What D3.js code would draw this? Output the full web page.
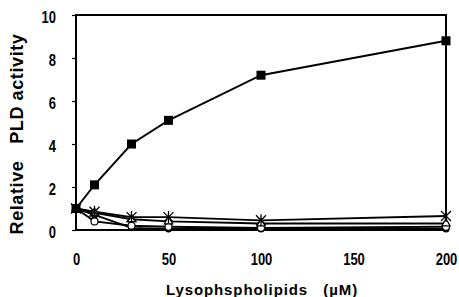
<!DOCTYPE html>
<html>
<head>
<meta charset="utf-8">
<script src="https://cdn.jsdelivr.net/npm/d3@7"></script>
<style>
  body { margin: 0; background: #fff; }
  text { font-family: "Liberation Sans", Arial, sans-serif; font-weight: bold; fill: #000; }
</style>
</head>
<body>
<script>
// concentrations (uM)
let conc = [0, 10, 30, 50, 100, 200];

// relative PLD activity per lysophospholipid
let squareVals = [1.0, 2.1, 4.0, 5.1, 7.2, 8.8];
let starVals = [1.0, 0.85, 0.6, 0.6, 0.45, 0.65];
let triangleVals = [1.0, 0.8, 0.5, 0.4, 0.3, 0.3];
let openCircleVals = [1.0, 0.4, 0.2, 0.15, 0.1, 0.15];
let filledCircleVals = [1.0, 0.7, 0.1, 0.05, 0.05, 0.05];

let xTicks = [0, 50, 100, 150, 200];
let yTicks = [0, 2, 4, 6, 8, 10];

let margin = {top: 15, right: 13, bottom: 67, left: 76};
let width = 459 - margin.left - margin.right;
let height = 297 - margin.top - margin.bottom;

let xScale = d3.scaleLinear().domain([0, 200]).range([0, width]);
let yScale = d3.scaleLinear().domain([0, 10]).range([height, 0]);

let svg = d3.select("body").append("svg")
		.attr("width", 459)
		.attr("height", 297);

let chart = svg.append("g")
		.attr("transform", "translate(" + margin.left + "," + margin.top + ")");

// frame
chart.append("rect")
	.attr("width", width)
	.attr("height", height)
	.attr("fill", "none")
	.attr("stroke", "#000")
	.attr("stroke-width", 2);

// axes
let xAxis = chart.append("g")
	.attr("transform", "translate(0," + height + ")")
	.call(d3.axisBottom(xScale).tickValues(xTicks).tickSize(0));
let yAxis = chart.append("g")
	.call(d3.axisLeft(yScale).tickValues(yTicks).tickSize(4));

[xAxis, yAxis].forEach(function(a) {
	a.select(".domain").remove();
	a.selectAll("line").attr("stroke", "#000").attr("stroke-width", 1.2);
	a.selectAll("text").style("font-size", "13px").style("font-family", "Liberation Sans, Arial, sans-serif").style("font-weight", "bold");
});

// taller digits, like the scanned figure
xAxis.selectAll("text")
	.attr("y", null).attr("dy", null)
	.attr("transform", "translate(0,35) scale(1,1.25)");
yAxis.selectAll("text")
	.attr("x", null).attr("dy", null)
	.attr("transform", "translate(-20,7) scale(1,1.25)");

let line = d3.line()
	.x(function(d, i) { return xScale(conc[i]); })
	.y(function(d) { return yScale(d); });

let series = [filledCircleVals, openCircleVals, triangleVals, starVals, squareVals];
series.forEach(function(vals) {
	chart.append("path")
		.datum(vals)
		.attr("fill", "none")
		.attr("stroke", "#000")
		.attr("stroke-width", 1.9)
		.attr("d", line);
});

// markers
function pts(vals) {
	return vals.map(function(v, i) { return {x: xScale(conc[i]), y: yScale(v)}; });
}

chart.selectAll(".fc").data(pts(filledCircleVals)).enter().append("circle")
	.attr("cx", function(d) { return d.x; }).attr("cy", function(d) { return d.y; })
	.attr("r", 3.5).attr("fill", "#000");

chart.selectAll(".oc").data(pts(openCircleVals)).enter().append("circle")
	.attr("cx", function(d) { return d.x; }).attr("cy", function(d) { return d.y; })
	.attr("r", 3.5).attr("fill", "#fff").attr("stroke", "#000").attr("stroke-width", 1.2);

chart.selectAll(".tr").data(pts(triangleVals)).enter().append("path")
	.attr("transform", function(d) { return "translate(" + d.x + "," + d.y + ")"; })
	.attr("d", d3.symbol().type(d3.symbolTriangle).size(30))
	.attr("fill", "#fff").attr("stroke", "#000").attr("stroke-width", 1.2);

chart.selectAll(".st").data(pts(starVals)).enter().append("path")
	.attr("transform", function(d) { return "translate(" + d.x + "," + d.y + ")"; })
	.attr("d", "M-5,-5L5,5M-5,5L5,-5M0,-6L0,6")
	.attr("stroke", "#000").attr("stroke-width", 1.3);

chart.selectAll(".sq").data(pts(squareVals)).enter().append("rect")
	.attr("x", function(d) { return d.x - 4.5; }).attr("y", function(d) { return d.y - 4.5; })
	.attr("width", 9).attr("height", 9).attr("fill", "#000");

// axis titles
svg.append("text")
	.attr("x", 262)
	.attr("y", 295)
	.attr("text-anchor", "middle")
	.style("font-size", "15px")
	.style("letter-spacing", "0.9px")
	.style("white-space", "pre")
	.text("Lysophspholipids   (\u00b5M)");

svg.append("text")
	.attr("transform", "translate(23,134) rotate(-90)")
	.attr("text-anchor", "middle")
	.style("font-size", "18px")
	.style("letter-spacing", "0.6px")
	.style("white-space", "pre")
	.text("Relative   PLD activity");
</script>
</body>
</html>
